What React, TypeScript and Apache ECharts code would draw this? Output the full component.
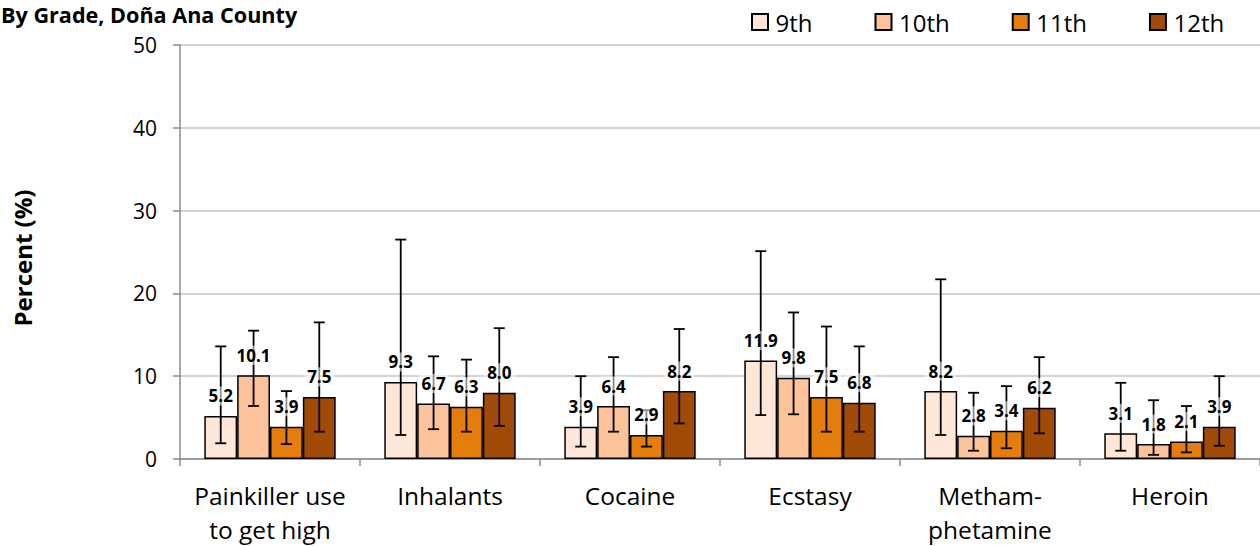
import React, { useEffect, useRef } from "react";
import * as echarts from "echarts";

const categories = ["Painkiller use\nto get high", "Inhalants", "Cocaine", "Ecstasy", "Metham-\nphetamine", "Heroin"];
const grades = ["9th", "10th", "11th", "12th"];
const colors = ["#FEE6D9", "#FCC39A", "#E47D0C", "#A24B08"];

const values9 = [5.2, 9.3, 3.9, 11.9, 8.2, 3.1];
const values10 = [10.1, 6.7, 6.4, 9.8, 2.8, 1.8];
const values11 = [3.9, 6.3, 2.9, 7.5, 3.4, 2.1];
const values12 = [7.5, 8.0, 8.2, 6.8, 6.2, 3.9];

const lower9 = [1.9, 2.9, 1.5, 5.3, 2.9, 1.0];
const upper9 = [13.6, 26.5, 10.0, 25.1, 21.7, 9.2];
const lower10 = [6.4, 3.6, 3.3, 5.4, 1.0, 0.5];
const upper10 = [15.5, 12.4, 12.3, 17.7, 8.0, 7.1];
const lower11 = [1.8, 3.3, 1.5, 3.3, 1.3, 0.8];
const upper11 = [8.2, 12.0, 5.9, 16.0, 8.8, 6.4];
const lower12 = [3.3, 4.0, 4.3, 3.3, 3.1, 1.6];
const upper12 = [16.5, 15.8, 15.7, 13.6, 12.3, 10.0];

const yTicks = [0, 10, 20, 30, 40, 50];

const allValues = [values9, values10, values11, values12];
const allLower = [lower9, lower10, lower11, lower12];
const allUpper = [upper9, upper10, upper11, upper12];

const FONT = "'Open Sans', Lato, sans-serif";
const GROUP_FRACTION = 0.73;

export default function App() {
  const ref = useRef<HTMLDivElement>(null);

  useEffect(() => {
    if (!ref.current) return;
    const chart = echarts.init(ref.current, null, { renderer: "svg" });

    const barSeries = grades.map((g, gi) => ({
      name: g,
      type: "bar",
      data: allValues[gi],
      barGap: "0%",
      barCategoryGap: "27%",
      z: 2,
      itemStyle: { color: colors[gi], borderColor: "#000", borderWidth: 1.5 },
    }));

    const errSeries = grades.map((g, gi) => ({
      name: "err" + g,
      type: "custom",
      z: 3,
      data: allValues[gi].map((v, i) => [i, v, allLower[gi][i], allUpper[gi][i]]),
      encode: { x: 0, y: 1 },
      renderItem: (params: any, api: any) => {
        const ci = api.value(0);
        const v = api.value(1);
        const lo = api.value(2);
        const hi = api.value(3);
        const c = api.coord([ci, v]);
        const bandW = api.size([1, 0])[0];
        const barW = (bandW * GROUP_FRACTION) / 4;
        const x = c[0] + (gi - 1.5) * barW;
        const yLo = api.coord([ci, lo])[1];
        const yHi = api.coord([ci, hi])[1];
        const cap = 5.5;
        const lineStyle = { stroke: "#000", lineWidth: 1.8 };
        return {
          type: "group",
          children: [
            { type: "line", shape: { x1: x, y1: yLo, x2: x, y2: yHi }, style: lineStyle },
            { type: "line", shape: { x1: x - cap, y1: yLo, x2: x + cap, y2: yLo }, style: lineStyle },
            { type: "line", shape: { x1: x - cap, y1: yHi, x2: x + cap, y2: yHi }, style: lineStyle },
            {
              type: "text",
              z2: 10,
              style: {
                text: v.toFixed(1),
                x: x,
                y: c[1] - 20,
                align: "center",
                verticalAlign: "middle",
                font: "bold 17px " + FONT,
                fill: "#000",
                backgroundColor: "rgba(255,255,255,0.55)",
                padding: [1, 3],
              },
            },
          ],
        };
      },
    }));

    chart.setOption({
      animation: false,
      backgroundColor: "#fff",
      legend: {
        data: grades,
        left: 746,
        top: 5,
        itemWidth: 16,
        itemHeight: 16,
        itemGap: 62,
        icon: "rect",
        textStyle: { fontFamily: FONT, fontSize: 24, color: "#000", padding: [0, 0, 0, 2.5] },
      },
      graphic: [
        {
          type: "text",
          x: 1,
          y: 14,
          style: {
            text: "By Grade, Doña Ana County",
            align: "left",
            verticalAlign: "middle",
            font: "bold 21.6px " + FONT,
            fill: "#000",
          },
        },
        {
          type: "text",
          x: 22,
          y: 258,
          rotation: Math.PI / 2,
          style: {
            text: "Percent (%)",
            align: "center",
            verticalAlign: "middle",
            font: "bold 24px " + FONT,
            fill: "#000",
          },
        },
      ],
      grid: { left: 180, top: 45, width: 1085, height: 415 },
      xAxis: {
        type: "category",
        data: categories,
        axisLine: { lineStyle: { color: "#8c8c8c", width: 1.5 } },
        axisTick: { show: true, length: 7, lineStyle: { color: "#8c8c8c", width: 1.5 } },
        axisLabel: { fontFamily: FONT, fontSize: 24.5, color: "#000", margin: 19, lineHeight: 34, interval: 0 },
      },
      yAxis: {
        type: "value",
        min: yTicks[0],
        max: yTicks[yTicks.length - 1],
        interval: 10,
        axisLine: { show: true, lineStyle: { color: "#8c8c8c", width: 1.5 } },
        axisTick: { show: true, length: 7, lineStyle: { color: "#8c8c8c", width: 1.5 } },
        splitLine: { lineStyle: { color: "#c6c6c6", width: 1.5 } },
        axisLabel: { fontFamily: FONT, fontSize: 21, color: "#000", margin: 23 },
      },
      series: [...barSeries, ...errSeries],
    });

    return () => chart.dispose();
  }, []);

  return <div ref={ref} style={{ position: "absolute", left: 0, top: 0, width: 1260, height: 546 }} />;
}
